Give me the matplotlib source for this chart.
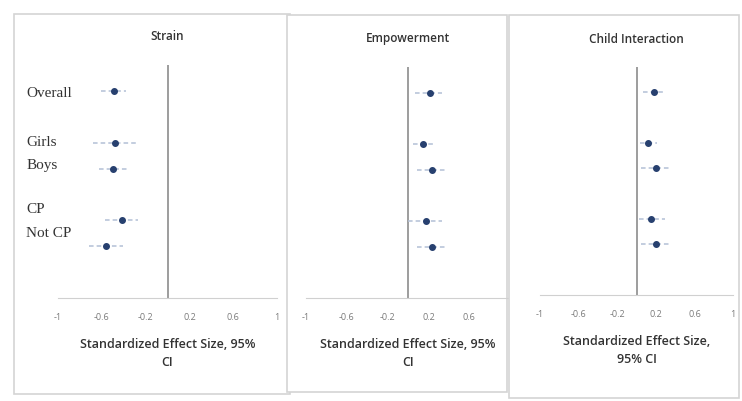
import matplotlib.pyplot as plt
from matplotlib.patches import Rectangle

# effect sizes with 95% CI, one list per outcome
groups = ['Overall', 'Girls', 'Boys', 'CP', 'Not CP']
group_pos = [1, 3, 4, 6, 7]
label_pos = [1.1, 3.0, 3.9, 5.6, 6.5]

strain_est = [-0.49, -0.48, -0.50, -0.42, -0.56]
strain_lo = [-0.61, -0.68, -0.63, -0.57, -0.72]
strain_hi = [-0.38, -0.29, -0.37, -0.27, -0.41]

empow_est = [0.22, 0.15, 0.24, 0.18, 0.24]
empow_lo = [0.07, 0.05, 0.09, 0.00, 0.09]
empow_hi = [0.33, 0.26, 0.36, 0.33, 0.37]

child_est = [0.18, 0.12, 0.20, 0.15, 0.20]
child_lo = [0.07, 0.04, 0.05, 0.03, 0.05]
child_hi = [0.30, 0.21, 0.35, 0.30, 0.35]

ticks = [-1, -0.6, -0.2, 0.2, 0.6, 1]
tick_labels = ['-1', '-0.6', '-0.2', '0.2', '0.6', '1']

W, H = 742, 401
fig = plt.figure(figsize=(W / 100, H / 100), dpi=100)
fig.patch.set_facecolor('white')

sans = ['Open Sans', 'DejaVu Sans']


def px_rect(x0, y0, x1, y1):
    return [x0 / W, 1 - y1 / H, (x1 - x0) / W, (y1 - y0) / H]


def panel_box(x0, y0, x1, y1, z):
    l, b, w, h = px_rect(x0, y0, x1, y1)
    r = Rectangle((l, b), w, h, transform=fig.transFigure, facecolor='white',
                  edgecolor='#d4d4d4', linewidth=1.2, zorder=z)
    fig.patches.append(r)


def forest(ax, est, lo, hi, title, xlabel):
    xerr = [[e - l for e, l in zip(est, lo)], [h - e for e, h in zip(est, hi)]]
    eb = ax.errorbar(est, group_pos, xerr=xerr, fmt='o', ms=4, color='#27406f',
                     ecolor='#b3c0d6', elinewidth=1.1, capsize=0, zorder=3)
    eb[-1][0].set_linestyle((0, (3, 2)))
    ax.set_xlim(-1, 1)
    ax.set_ylim(9, 0)
    ax.axvline(0, color='#8c8c8c', lw=1.2, zorder=1)
    for s in ['top', 'right', 'left']:
        ax.spines[s].set_visible(False)
    ax.spines['bottom'].set_color('#d0d0d0')
    ax.set_yticks([])
    ax.set_xticks(ticks)
    ax.set_xticklabels(tick_labels, fontsize=6.5, color='#7a7a7a', family=sans)
    ax.tick_params(axis='x', length=0, pad=11)
    ax.set_xlabel(xlabel, fontsize=9, color='#333333', family=sans,
                  fontweight='semibold', labelpad=11, linespacing=1.55)
    ax.set_title(title, fontsize=8.5, color='#333333', family=sans,
                 fontweight='semibold', y=1.07)
    ax.patch.set_alpha(0)


panel_box(14, 14, 290, 394, 0.1)
panel_box(287, 15, 507, 392, 0.2)
panel_box(509, 15, 739, 398, 1.5)

ax1 = fig.add_axes(px_rect(58, 65, 277, 298), zorder=1)
forest(ax1, strain_est, strain_lo, strain_hi, 'Strain',
       'Standardized Effect Size, 95%\nCI')
for g, y in zip(groups, label_pos):
    ax1.text(-1.29, y, g, fontsize=11, family='Liberation Serif',
             color='#333333', va='center', ha='left', clip_on=False)

ax2 = fig.add_axes(px_rect(306, 67, 510, 298), zorder=1)
forest(ax2, empow_est, empow_lo, empow_hi, 'Empowerment',
       'Standardized Effect Size, 95%\nCI')

ax3 = fig.add_axes(px_rect(540, 67, 733, 295), zorder=2)
forest(ax3, child_est, child_lo, child_hi, 'Child Interaction',
       'Standardized Effect Size,\n95% CI')

fig.savefig('out.png', dpi=100)
